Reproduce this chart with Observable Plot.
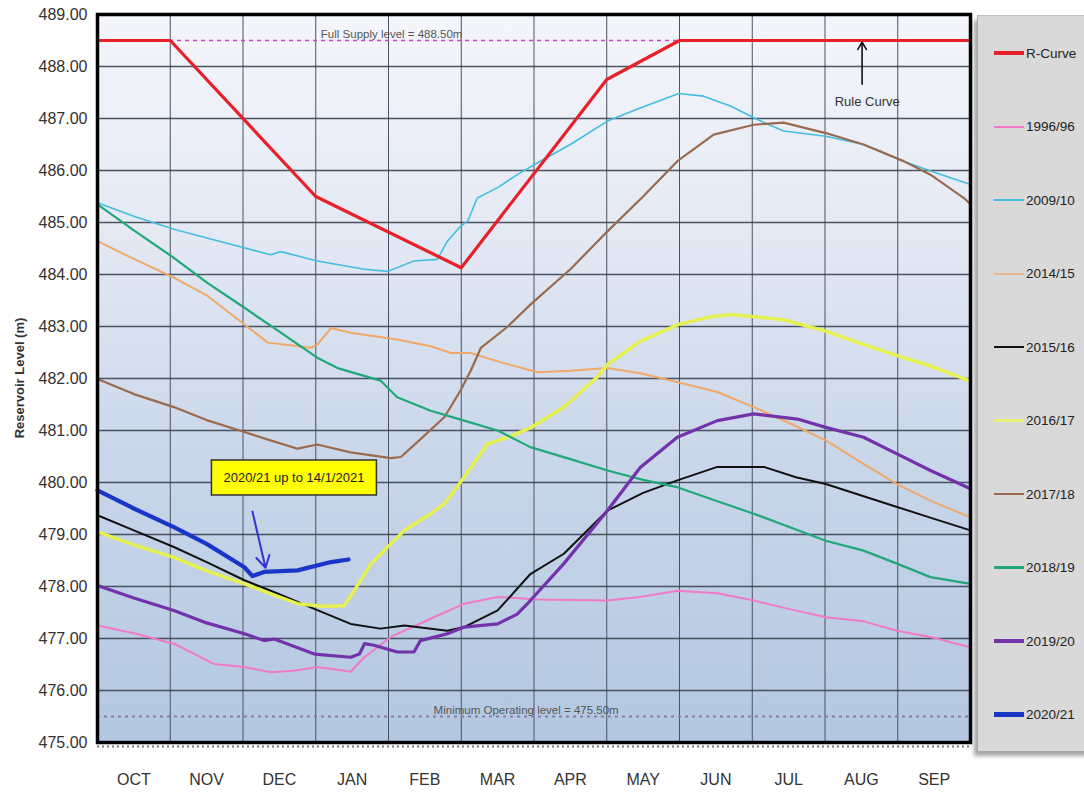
<!DOCTYPE html>
<html><head><meta charset="utf-8">
<script src="https://cdn.jsdelivr.net/npm/d3@7"></script>
<script src="https://cdn.jsdelivr.net/npm/@observablehq/plot@0.6"></script>
<style>
body{margin:0;background:#fff;font-family:"Liberation Sans",Arial,sans-serif;}
#wrap{position:relative;width:1084px;height:794px;overflow:hidden;background:#fff;}
#chart{position:absolute;left:0;top:0;}
#legend{position:absolute;left:977px;top:15px;width:130px;height:735px;background:#d9d9d9;border-left:1px solid #a8a8a8;border-top:1px solid #c0c0c0;box-shadow:-3px 5px 4px rgba(0,0,0,0.35);}
.item{position:absolute;left:16px;height:16px;display:flex;align-items:center;font-size:13.5px;color:#222;white-space:nowrap;}
.sw{display:inline-block;width:30px;margin-right:2px;}
#ylabel{position:absolute;left:19px;top:378px;transform:translate(-50%,-50%) rotate(-90deg);font-weight:bold;font-size:13px;white-space:nowrap;color:#333;}
</style></head>
<body>
<div id="wrap">
  <div id="chart"></div>
  <div id="ylabel">Reservoir Level (m)</div>
  <div id="legend"></div>
</div>
<script>
// ---- tick labels / categories ----
const months = ["OCT","NOV","DEC","JAN","FEB","MAR","APR","MAY","JUN","JUL","AUG","SEP"];
const yTicks = [475,476,477,478,479,480,481,482,483,484,485,486,487,488,489];
const fullSupplyLevel = 488.5;
const minOperatingLevel = 475.5;

// ---- series values: [month position (0 = 1 Oct, 12 = 30 Sep), level m] ----
const rCurve = [[0,488.5],[1,488.5],[3,485.5],[5,484.13],[7,487.75],[8,488.5],[12,488.5]];
const s1996 = [[0,477.25],[0.5,477.1],[1.05,476.9],[1.6,476.51],[2.02,476.45],[2.38,476.35],[2.7,476.38],[3.02,476.45],[3.3,476.4],[3.48,476.36],[3.67,476.64],[4.03,477.03],[4.58,477.38],[5.04,477.67],[5.5,477.8],[6.05,477.75],[7.01,477.73],[7.46,477.8],[7.97,477.92],[8.52,477.87],[9.02,477.73],[9.5,477.57],[10.01,477.41],[10.53,477.33],[10.99,477.15],[11.45,477.03],[12,476.83]];
const s2009 = [[0,485.38],[0.5,485.12],[1.05,484.87],[1.83,484.58],[2.38,484.38],[2.52,484.44],[3.02,484.26],[3.67,484.1],[3.99,484.06],[4.35,484.26],[4.67,484.29],[4.81,484.64],[4.97,484.9],[5.09,485.03],[5.22,485.47],[5.5,485.67],[5.77,485.92],[6.05,486.15],[6.5,486.5],[7.01,486.95],[7.46,487.2],[7.99,487.48],[8.33,487.43],[8.7,487.24],[9.07,486.98],[9.43,486.76],[10.01,486.66],[10.53,486.5],[11.08,486.18],[11.45,485.99],[12,485.73]];
const s2014 = [[0,484.64],[0.5,484.3],[1.05,483.94],[1.5,483.6],[2.02,483.04],[2.34,482.69],[2.93,482.59],[3.02,482.65],[3.21,482.97],[3.48,482.88],[4.12,482.75],[4.58,482.62],[4.86,482.49],[5.13,482.49],[5.5,482.33],[6.05,482.12],[6.5,482.15],[7.01,482.2],[7.46,482.1],[7.88,481.96],[8.52,481.74],[9.02,481.45],[9.53,481.13],[10.01,480.81],[10.53,480.36],[10.99,479.97],[11.45,479.65],[12,479.33]];
const s2015 = [[0,479.37],[0.5,479.08],[1.05,478.76],[1.5,478.47],[2.02,478.12],[2.5,477.85],[2.98,477.57],[3.48,477.28],[3.89,477.19],[4.22,477.25],[4.81,477.15],[5.04,477.22],[5.5,477.54],[5.95,478.24],[6.41,478.63],[7.01,479.46],[7.5,479.8],[7.97,480.04],[8.52,480.3],[9.16,480.3],[9.6,480.1],[10.01,479.97],[10.5,479.75],[10.99,479.53],[11.5,479.3],[12,479.08]];
const s2016 = [[0,479.05],[0.5,478.8],[1.05,478.56],[1.5,478.3],[2.02,478.05],[2.4,477.85],[2.75,477.67],[3.1,477.62],[3.39,477.63],[3.53,477.92],[3.76,478.44],[4.22,479.08],[4.58,479.4],[4.77,479.59],[5.04,480.1],[5.36,480.74],[5.7,480.9],[5.95,481.05],[6.41,481.45],[6.87,482.03],[7.01,482.27],[7.46,482.72],[7.99,483.04],[8.4,483.18],[8.7,483.23],[9.1,483.18],[9.43,483.13],[10.01,482.91],[10.53,482.65],[11.08,482.4],[11.45,482.24],[12,481.95]];
const s2017 = [[0,481.99],[0.5,481.7],[1.05,481.45],[1.5,481.2],[2.02,480.97],[2.4,480.8],[2.75,480.65],[3.02,480.73],[3.48,480.58],[4.03,480.47],[4.17,480.49],[4.4,480.78],[4.77,481.26],[4.99,481.77],[5.13,482.15],[5.27,482.59],[5.64,483.0],[5.95,483.42],[6.5,484.1],[7.01,484.83],[7.5,485.5],[7.97,486.18],[8.47,486.69],[9.02,486.88],[9.43,486.92],[10.01,486.72],[10.53,486.5],[11.08,486.18],[11.45,485.92],[11.91,485.47],[12,485.35]];
const s2018 = [[0,485.35],[0.5,484.85],[1.05,484.32],[1.5,483.85],[2.02,483.36],[2.5,482.9],[3.02,482.4],[3.3,482.2],[3.89,481.96],[4.12,481.64],[4.58,481.38],[5.04,481.19],[5.5,481.0],[5.95,480.68],[6.5,480.45],[7.01,480.23],[7.5,480.05],[7.97,479.91],[8.5,479.65],[9.02,479.4],[9.5,479.15],[10.01,478.88],[10.53,478.69],[10.99,478.44],[11.45,478.18],[12,478.05]];
const s2019 = [[0,478.02],[0.5,477.78],[1.05,477.54],[1.5,477.3],[2.02,477.09],[2.29,476.96],[2.43,476.99],[2.98,476.7],[3.48,476.64],[3.6,476.7],[3.67,476.9],[3.8,476.87],[4.12,476.74],[4.35,476.74],[4.44,476.96],[4.81,477.09],[5.04,477.22],[5.5,477.28],[5.77,477.47],[5.95,477.73],[6.41,478.44],[7.01,479.46],[7.46,480.29],[7.97,480.87],[8.52,481.19],[9.02,481.32],[9.62,481.22],[10.01,481.06],[10.53,480.87],[10.99,480.55],[11.45,480.23],[12,479.88]];
const s2020 = [[0,479.85],[0.5,479.5],[1.05,479.14],[1.5,478.82],[2.02,478.37],[2.13,478.2],[2.29,478.28],[2.75,478.31],[3.21,478.47],[3.45,478.52]];

// ---- series names and styles (draw order) ----
const seriesNames  = ["1996/96","2009/10","2014/15","2015/16","2016/17","2017/18","2018/19","2019/20","R-Curve","2020/21"];
const seriesData   = [s1996, s2009, s2014, s2015, s2016, s2017, s2018, s2019, rCurve, s2020];
const seriesColors = ["#f07ac8","#45bde0","#f0a868","#111111","#e6f04e","#9a6a4e","#22a878","#7232aa","#e8202a","#1836c8"];
const seriesWidths = [2, 1.6, 2, 2, 3.5, 2.2, 2.2, 3.2, 3.2, 4.2];

// ---- legend order ----
const legendNames = ["R-Curve","1996/96","2009/10","2014/15","2015/16","2016/17","2017/18","2018/19","2019/20","2020/21"];
const legendSwatch = {"2014/15":"#e4b890","2016/17":"#e8f07a"};

// ---- annotations ----
const noteBox = [{x:2.70, y:480.09, label:"2020/21 up to 14/1/2021"}];
const noteArrow = [{x1:2.13, y1:479.44, x2:2.31, y2:478.36}];
const ruleCurveNote = [{x:10.58, y:487.33, label:"Rule Curve"}];
const ruleCurveArrow = [{x1:10.51, y1:487.66, x2:10.51, y2:488.47}];
const levelNotes = [
  {x:3.07, y:fullSupplyLevel, label:"Full Supply level = 488.50m"},
  {x:4.62, y:minOperatingLevel, label:"Minimum Operating level = 475.50m"}
];

const lineMarks = seriesData.map((d, i) => Plot.line(d, {
  x: p => p[0], y: p => p[1],
  stroke: seriesColors[i], strokeWidth: seriesWidths[i],
  strokeLinejoin: "round", strokeLinecap: "round"
}));

const chart = Plot.plot({
  width: 975, height: 794,
  marginLeft: 97, marginRight: 5, marginTop: 14, marginBottom: 52,
  style: {fontFamily: "'Liberation Sans', Arial, sans-serif", fontSize: "16px", color: "#333", background: "transparent"},
  x: {domain: [0, 12]},
  y: {domain: [475, 489]},
  marks: [
    Plot.frame({fill: "url(#bg)"}),
    Plot.ruleX(d3.range(1, 12), {stroke: "#4a5262", strokeWidth: 1}),
    Plot.ruleY(yTicks, {stroke: "#3a4250", strokeWidth: 1.5, strokeOpacity: 0.9}),
    Plot.ruleY([fullSupplyLevel], {stroke: "#c844c8", strokeDasharray: "4,4", strokeWidth: 1.3}),
    Plot.ruleY([minOperatingLevel], {stroke: "#8a7ca8", strokeDasharray: "3,4", strokeWidth: 1.8}),
    Plot.text(levelNotes, {x: "x", y: "y", text: "label", textAnchor: "start", lineAnchor: "bottom", dy: -3, fontSize: 11.5, fill: "#555"}),
    ...lineMarks,
    Plot.arrow(noteArrow, {x1: "x1", y1: "y1", x2: "x2", y2: "y2", stroke: "#3434d0", strokeWidth: 2, headLength: 10}),
    Plot.text(noteBox, {x: "x", y: "y", text: "label", fontSize: 13, fill: "#222"}),
    Plot.arrow(ruleCurveArrow, {x1: "x1", y1: "y1", x2: "x2", y2: "y2", stroke: "#111", strokeWidth: 1.6, headLength: 8}),
    Plot.text(ruleCurveNote, {x: "x", y: "y", text: "label", fontSize: 13, fill: "#333"}),
    Plot.ruleY([475], {stroke: "#777", strokeDasharray: "2,3", strokeWidth: 2, dy: 4}),
    Plot.frame({stroke: "#000", strokeWidth: 3.5}),
    Plot.axisX(months.map((m, i) => i + 0.5), {tickSize: 0, tickPadding: 31, tickFormat: d => months[Math.floor(d)], fontSize: 16, label: null}),
    Plot.axisY(yTicks, {tickSize: 0, tickPadding: 10, tickFormat: d3.format(".2f"), fontSize: 16, label: null})
  ]
});

document.getElementById("chart").appendChild(chart);

// background gradient for plot area
const defs = d3.select(chart).insert("defs", ":first-child");
const grad = defs.append("linearGradient").attr("id", "bg").attr("x1", 0).attr("y1", 0).attr("x2", 0).attr("y2", 1);
[["0%","#f4f6fb"],["30%","#e4e9f4"],["60%","#cad7ea"],["100%","#b3c7e1"]].forEach(([o, c]) => grad.append("stop").attr("offset", o).attr("stop-color", c));

// yellow box behind the 2020/21 note
d3.select(chart).selectAll("text")
  .filter(function() { return this.textContent === noteBox[0].label; })
  .each(function() {
    const b = this.getBBox();
    const parent = this.parentNode;
    const rect = document.createElementNS("http://www.w3.org/2000/svg", "rect");
    rect.setAttribute("x", b.x - 12);
    rect.setAttribute("y", b.y - 10);
    rect.setAttribute("width", b.width + 24);
    rect.setAttribute("height", b.height + 20);
    rect.setAttribute("fill", "#ffff00");
    rect.setAttribute("stroke", "#333");
    rect.setAttribute("stroke-width", "1.5");
    const tf = this.getAttribute("transform");
    if (tf) rect.setAttribute("transform", tf);
    parent.insertBefore(rect, this);
  });

// legend
const legend = document.getElementById("legend");
legendNames.forEach((name, i) => {
  const k = seriesNames.indexOf(name);
  const item = document.createElement("div");
  item.className = "item";
  item.style.top = (52 + i * 73.5 - 15 - 8) + "px";
  const sw = document.createElement("span");
  sw.className = "sw";
  sw.style.height = Math.max(2, seriesWidths[k]) + "px";
  sw.style.background = legendSwatch[name] || seriesColors[k];
  item.appendChild(sw);
  item.appendChild(document.createTextNode(name));
  legend.appendChild(item);
});
</script>
</body></html>
